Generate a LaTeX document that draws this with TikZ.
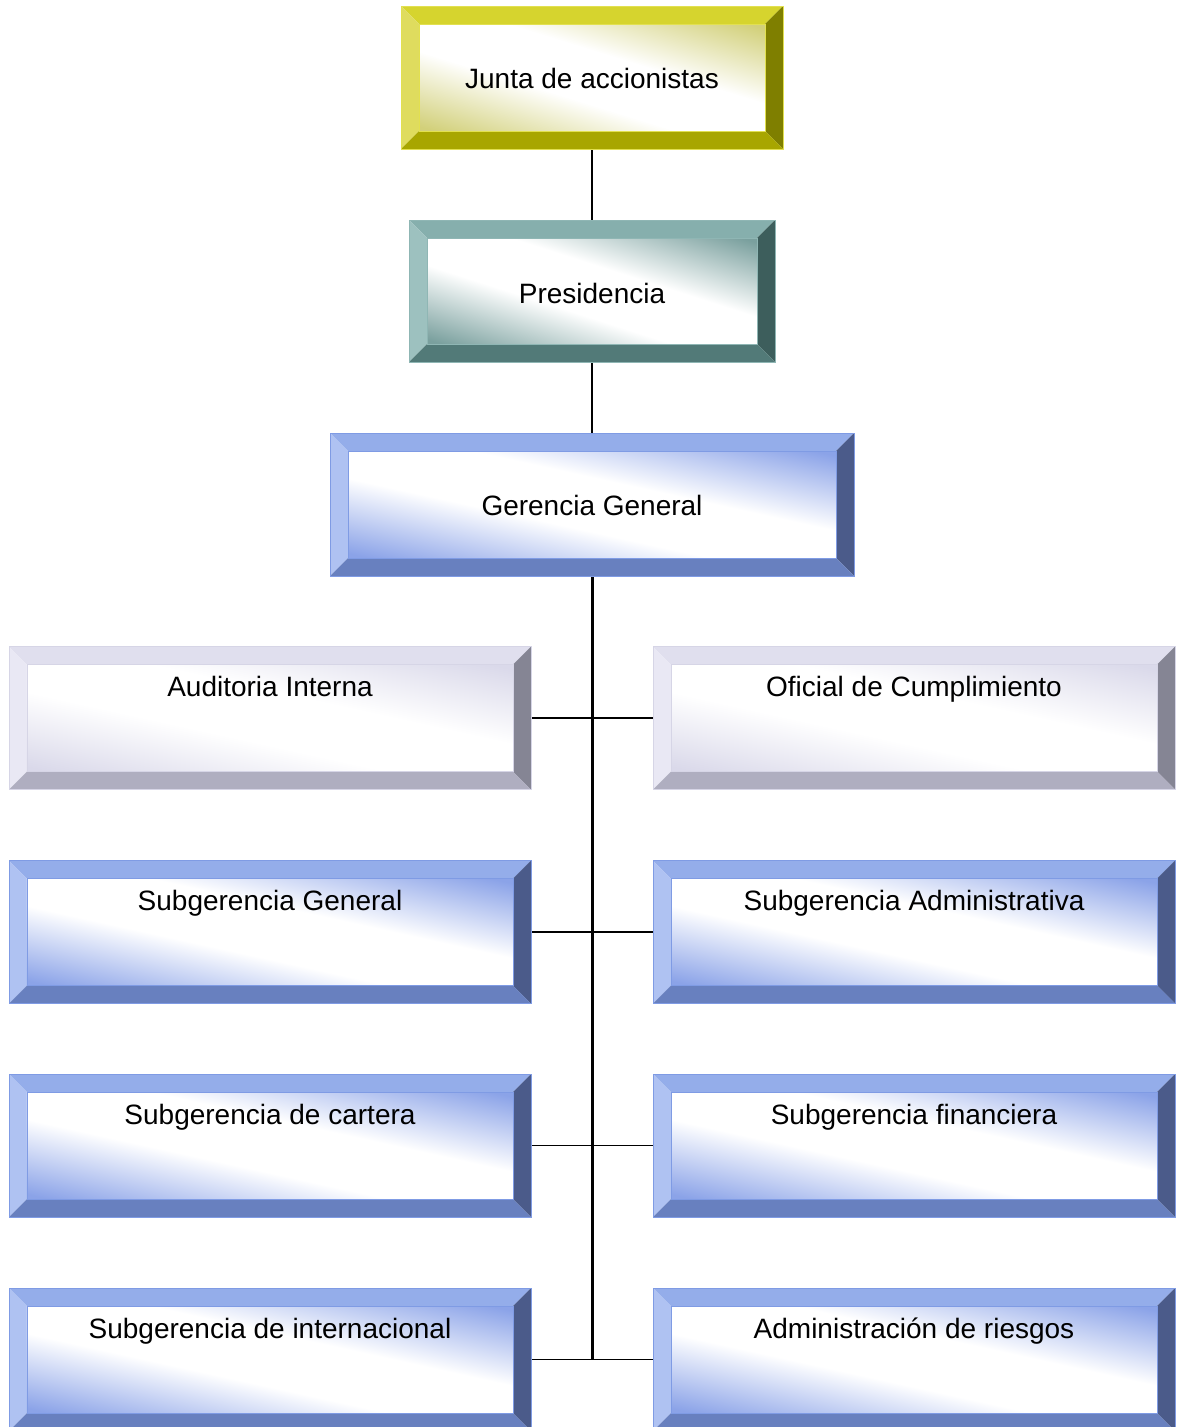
\documentclass[tikz,border=0pt]{standalone}
\usepackage{fontspec}
\setmainfont{Liberation Sans}
\usetikzlibrary{calc}

% bevel colours: top, left, right, bottom, face tint, outline
\definecolor{yelTop}{HTML}{D6D42E}\definecolor{yelLeft}{HTML}{DFDC5E}
\definecolor{yelRight}{HTML}{7F7F00}\definecolor{yelBot}{HTML}{A8A600}
\definecolor{yelTint}{HTML}{D2D07A}\definecolor{yelLine}{HTML}{E2E050}
\definecolor{teaTop}{HTML}{86AFAD}\definecolor{teaLeft}{HTML}{9DC1BF}
\definecolor{teaRight}{HTML}{3D5E5C}\definecolor{teaBot}{HTML}{527A78}
\definecolor{teaTint}{HTML}{7AA09E}\definecolor{teaLine}{HTML}{8FB6B4}
\definecolor{bluTop}{HTML}{94ADEA}\definecolor{bluLeft}{HTML}{AFC2F2}
\definecolor{bluRight}{HTML}{4B5B8A}\definecolor{bluBot}{HTML}{6880BF}
\definecolor{bluTint}{HTML}{8BA3E8}\definecolor{bluLine}{HTML}{7F9BE4}
\definecolor{grzTop}{HTML}{E0DFEE}\definecolor{grzLeft}{HTML}{E9E8F4}
\definecolor{grzRight}{HTML}{858594}\definecolor{grzBot}{HTML}{AFAEC0}
\definecolor{grzTint}{HTML}{DAD9EA}\definecolor{grzLine}{HTML}{D6D5E6}

% diagonal face shadings: tinted corners, wide white band between them
\pgfdeclarehorizontalshading{yelFace}{100bp}{color(0bp)=(yelTint); color(16bp)=(yelTint); color(41bp)=(white); color(59bp)=(white); color(84bp)=(yelTint); color(100bp)=(yelTint)}
\pgfdeclarehorizontalshading{teaFace}{100bp}{color(0bp)=(teaTint); color(16bp)=(teaTint); color(41bp)=(white); color(59bp)=(white); color(84bp)=(teaTint); color(100bp)=(teaTint)}
\pgfdeclarehorizontalshading{bluFace}{100bp}{color(0bp)=(bluTint); color(16bp)=(bluTint); color(41bp)=(white); color(59bp)=(white); color(84bp)=(bluTint); color(100bp)=(bluTint)}
\pgfdeclarehorizontalshading{grzFace}{100bp}{color(0bp)=(grzTint); color(16bp)=(grzTint); color(41bp)=(white); color(59bp)=(white); color(84bp)=(grzTint); color(100bp)=(grzTint)}

\def\bw{18}
% #1 node name, #2 colour scheme prefix
\newcommand\bevelbox[2]{%
  \fill[#2Top] (#1.north west) -- (#1.north east) -- ($(#1.north east)+(-\bw,\bw)$) -- ($(#1.north west)+(\bw,\bw)$) -- cycle;
  \fill[#2Left] (#1.north west) -- ($(#1.north west)+(\bw,\bw)$) -- ($(#1.south west)+(\bw,-\bw)$) -- (#1.south west) -- cycle;
  \fill[#2Right] (#1.north east) -- ($(#1.north east)+(-\bw,\bw)$) -- ($(#1.south east)+(-\bw,-\bw)$) -- (#1.south east) -- cycle;
  \fill[#2Bot] (#1.south west) -- ($(#1.south west)+(\bw,-\bw)$) -- ($(#1.south east)+(-\bw,-\bw)$) -- (#1.south east) -- cycle;
  % face: a square shading stretched onto the inner rectangle
  \path (#1.south west); \pgfgetlastxy{\bxa}{\bya}%
  \path (#1.north east); \pgfgetlastxy{\bxb}{\byb}%
  \pgfmathsetmacro\fcx{(\bxa+\bxb)/2}%
  \pgfmathsetmacro\fcy{(\bya+\byb)/2}%
  \pgfmathsetmacro\fsx{(\bxb-\bxa)/2-\bw}%
  \pgfmathsetmacro\fsy{(\byb-\bya)/2-\bw}%
  \begin{scope}[transform canvas={shift={(\fcx pt,\fcy pt)}, xscale=\fsx, yscale=\fsy}]
    \shade[shading=#2Face, shading angle=45] (-1pt,-1pt) rectangle (1pt,1pt);
  \end{scope}
  \draw[#2Line, line width=0.8pt] (#1.north west) rectangle (#1.south east);
  \draw[#2Line, line width=0.6pt] ($(#1.north west)+(\bw,\bw)$) rectangle ($(#1.south east)+(-\bw,-\bw)$);
}

\tikzset{
  unit/.style={inner sep=0pt, outer sep=0pt, minimum height=143pt},
  wide/.style={unit, minimum width=522pt},
  caption/.style={font=\fontsize{28}{34}\selectfont, anchor=base, inner sep=0pt},
  link/.style={line width=1.6pt, black},
  branch/.style={line width=1.4pt, black},
  trunk/.style={line width=3pt, black},
}

\begin{document}
\begin{tikzpicture}[x=1pt, y=-1pt]
\useasboundingbox (0,0) rectangle (1180,1427);
\clip (0,0) rectangle (1180,1427);
\fill[white] (0,0) rectangle (1180,1427);

% boxes
\node[unit, minimum width=382pt] (jun) at (592,77.5) {};
\node[unit, minimum width=366pt, minimum height=142pt] (pre) at (592,291) {};
\node[unit, minimum width=524pt] (ger) at (592,504.5) {};
\node[wide] (aud) at (270,718) {};
\node[wide] (ofi) at (914,718) {};
\node[wide] (sgg) at (270,932) {};
\node[wide] (sga) at (914,932) {};
\node[wide] (sgc) at (270,1145.5) {};
\node[wide] (sgf) at (914,1145.5) {};
\node[wide] (sgi) at (270,1359.5) {};
\node[wide] (adm) at (914,1359.5) {};

% connectors
\draw[link] (jun.south) -- (pre.north);
\draw[link] (pre.south) -- (ger.north);
\draw[trunk] (ger.south) -- (ger.south |- sgi.east);
\draw[branch] (aud.east) -- (ofi.west);
\draw[branch] (sgg.east) -- (sga.west);
\draw[branch] (sgc.east) -- (sgf.west);
\draw[branch] (sgi.east) -- (adm.west);

\bevelbox{jun}{yel}
\bevelbox{pre}{tea}
\bevelbox{ger}{blu}
\bevelbox{aud}{grz}
\bevelbox{ofi}{grz}
\bevelbox{sgg}{blu}
\bevelbox{sga}{blu}
\bevelbox{sgc}{blu}
\bevelbox{sgf}{blu}
\bevelbox{sgi}{blu}
\bevelbox{adm}{blu}

% captions
\node[caption] (junT) at ($(jun.center)+(0,11)$) {Junta de accionistas};
\node[caption] (preT) at ($(pre.center)+(0,12)$) {Presidencia};
\node[caption] (gerT) at ($(ger.center)+(0,11)$) {Gerencia General};
\node[caption] (audT) at ($(aud.north)+(0,50)$) {Auditoria Interna};
\node[caption] (ofiT) at ($(ofi.north)+(0,50)$) {Oficial de Cumplimiento};
\node[caption] (sggT) at ($(sgg.north)+(0,50)$) {Subgerencia General};
\node[caption] (sgaT) at ($(sga.north)+(0,50)$) {Subgerencia Administrativa};
\node[caption] (sgcT) at ($(sgc.north)+(0,50)$) {Subgerencia de cartera};
\node[caption] (sgfT) at ($(sgf.north)+(0,50)$) {Subgerencia financiera};
\node[caption] (sgiT) at ($(sgi.north)+(0,50)$) {Subgerencia de internacional};
\node[caption] (admT) at ($(adm.north)+(0,50)$) {Administración de riesgos};
\end{tikzpicture}
\end{document}
